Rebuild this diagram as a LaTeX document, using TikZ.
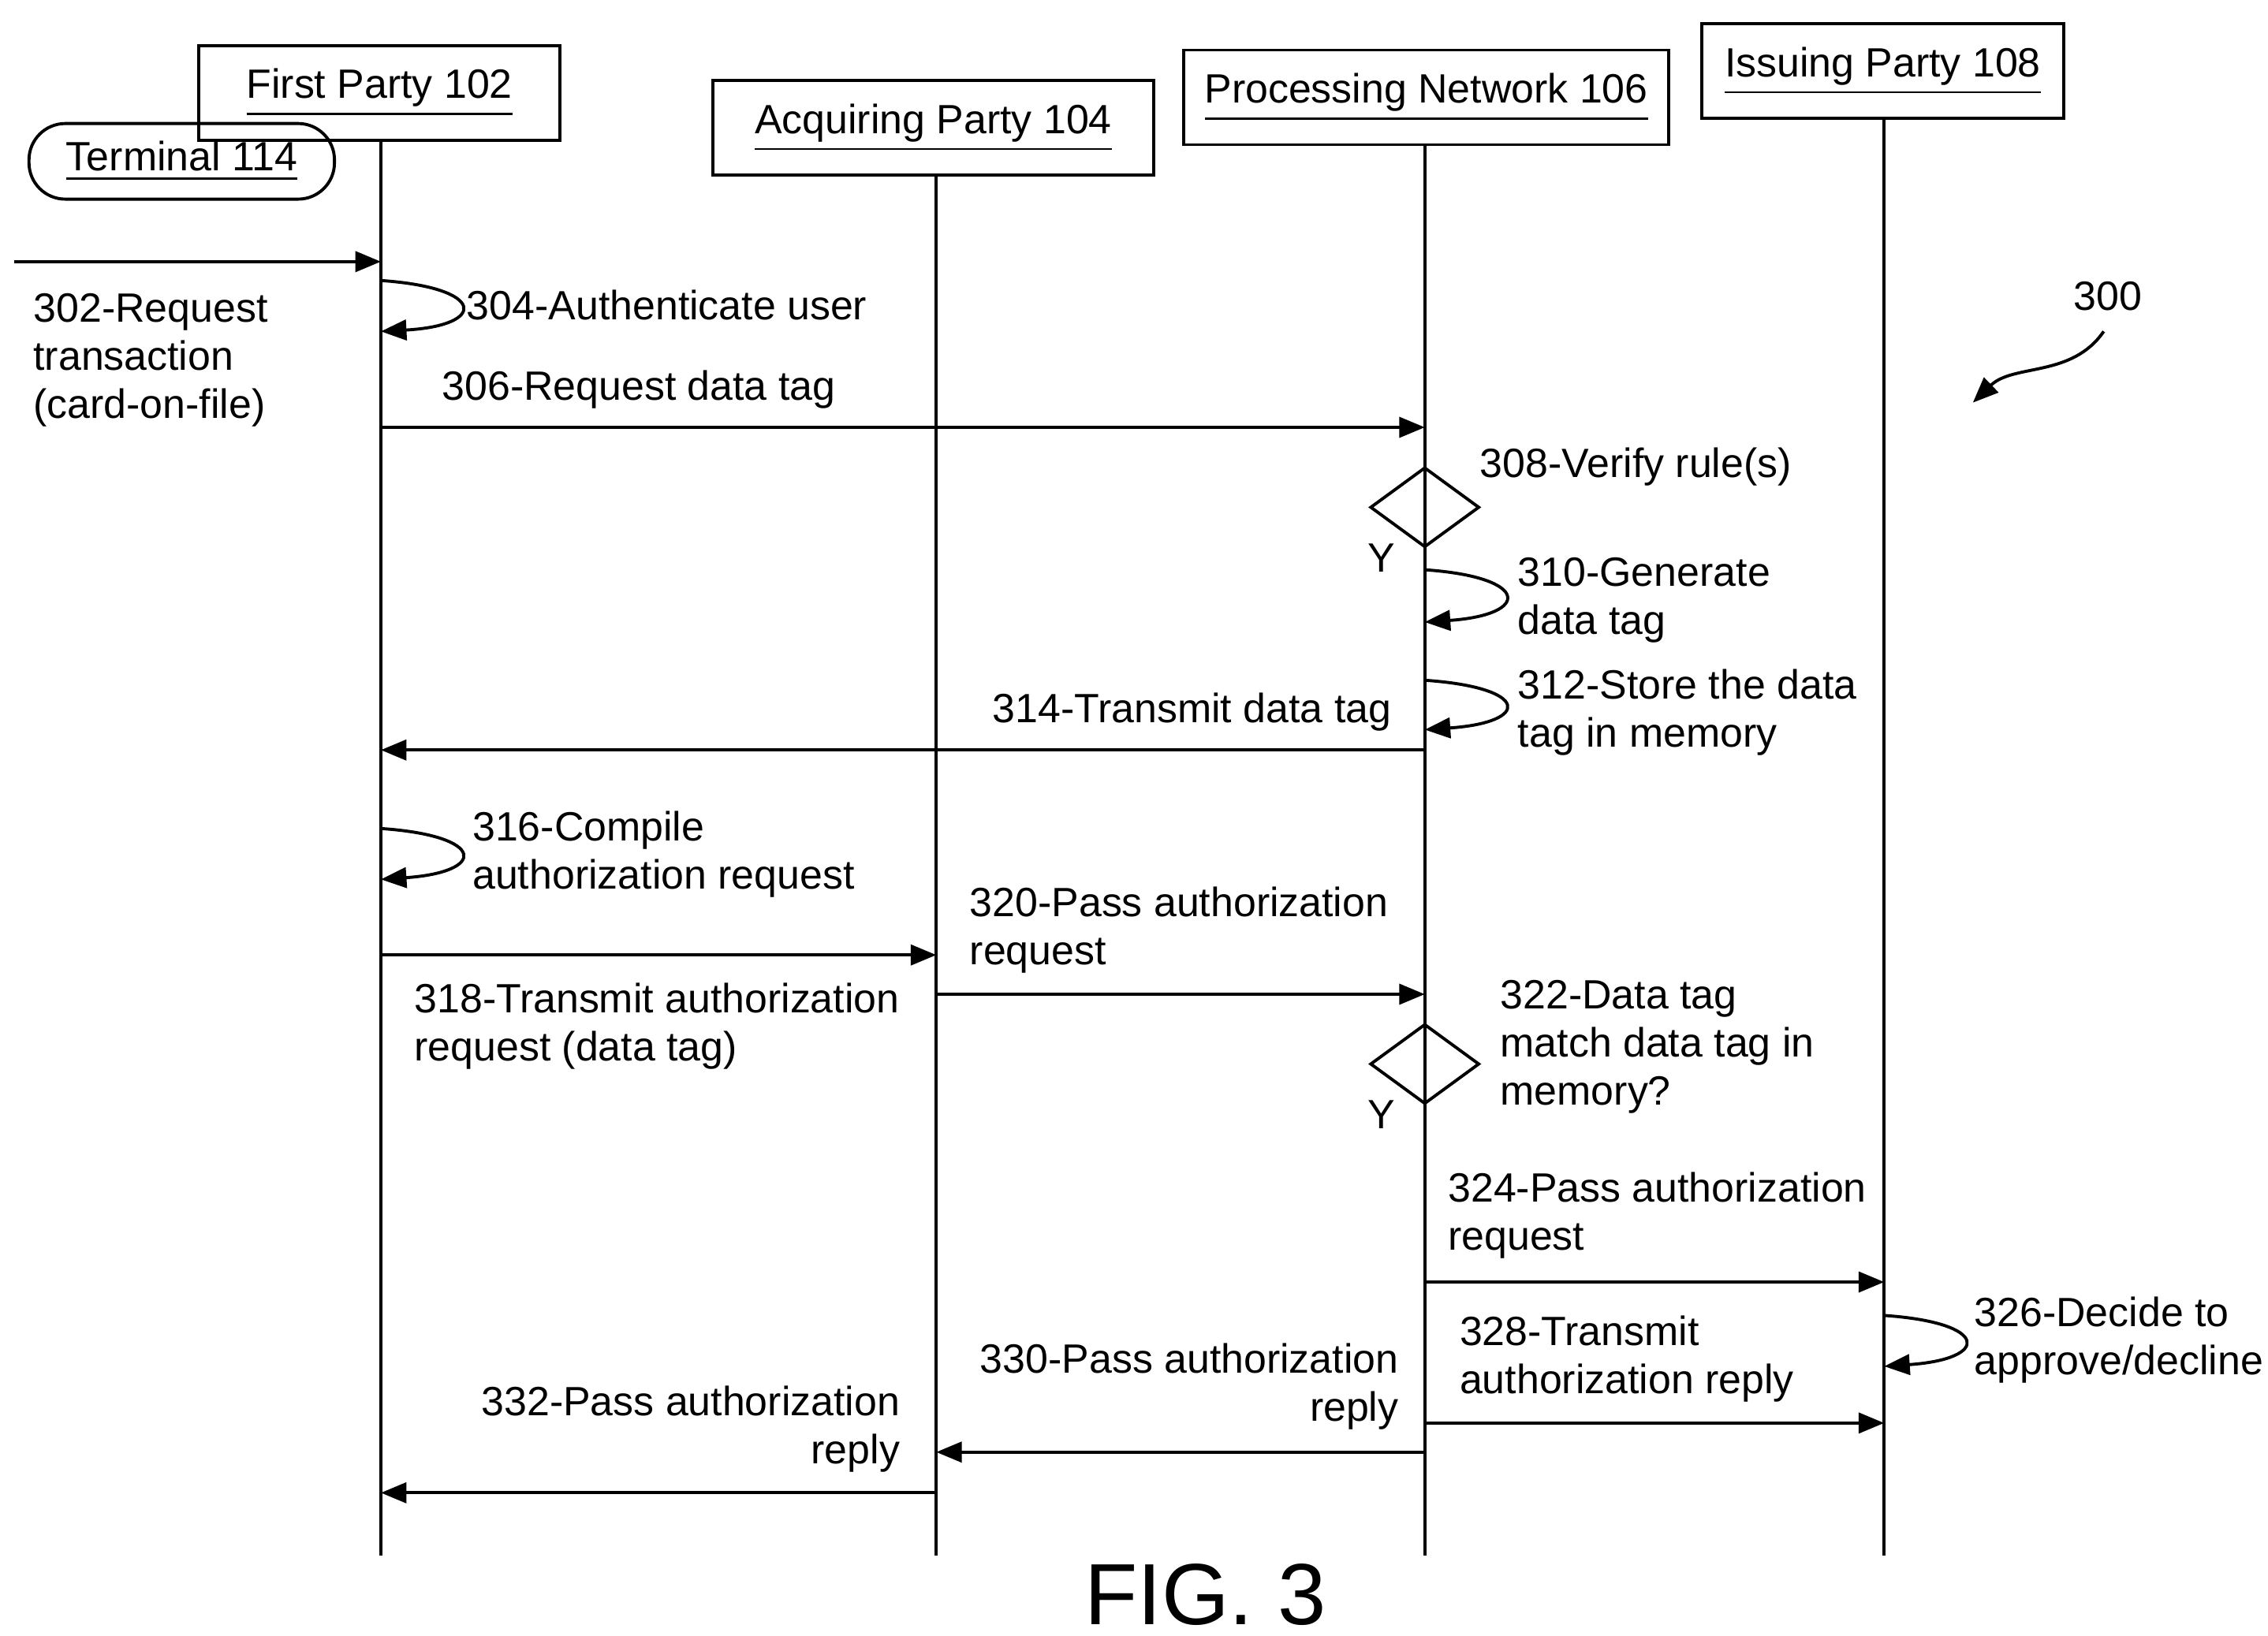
\documentclass[tikz,border=0pt]{standalone}
\usepackage{fontspec}
\setmainfont{Liberation Sans}
\usetikzlibrary{arrows.meta,shapes.geometric}
\begin{document}
\begin{tikzpicture}[x=0.01cm,y=-0.01cm,line width=0.6pt,
  every node/.style={font=\fontsize{8}{9.4}\selectfont},
  party/.style={draw,minimum height=0.65cm,inner sep=2pt},
  msg/.style={-{Triangle[length=5pt,width=4pt]}},
  lbl/.style={align=left,anchor=west,inner sep=0pt},
  rlbl/.style={align=right,anchor=east,inner sep=0pt},
  dec/.style={draw,diamond,minimum width=0.75cm,minimum height=0.55cm,inner sep=0pt}]
\useasboundingbox (0,0) rectangle (1560,1125);

% parties
\node[party,minimum width=2.48cm] (fp) at (261,64) {\underline{First Party 102}};
\node[party,minimum width=3.03cm] (ap) at (642,88) {\underline{Acquiring Party 104}};
\node[party,minimum width=3.33cm] (pn) at (981,67) {\underline{Processing Network 106}};
\node[party,minimum width=2.49cm] (ip) at (1295,49) {\underline{Issuing Party 108}};
\node[draw,rounded corners=0.25cm,minimum width=2.1cm,minimum height=0.52cm] (term) at (125,111) {\underline{Terminal 114}};

% lifelines
\coordinate (fpe) at (262,1070); \coordinate (ape) at (644,1070);
\coordinate (pne) at (980,1070); \coordinate (ipe) at (1296,1070);
\draw (fp.south -| fpe) -- (fpe);
\draw (ap.south -| ape) -- (ape);
\draw (pn.south -| pne) -- (pne);
\draw (ip.south -| ipe) -- (ipe);

% 302
\coordinate (in) at (10,180); \coordinate (fp1) at (262,180);
\draw[msg] (in) -- (fp1);
\node[lbl] (l302) at (22,248) {302-Request\\transaction\\(card-on-file)};

% 304
\coordinate (a304) at (262,193); \coordinate (b304) at (262,228);
\draw[msg] (a304) .. controls (335,198) and (335,224) .. (b304);
\node[lbl] (l304) at (320,210) {304-Authenticate user};

% 306
\coordinate (a306) at (262,294); \coordinate (b306) at (980,294);
\draw[msg] (a306) -- (b306);
\node[lbl] (l306) at (303,268) {306-Request data tag};

% 308
\node[dec] (d308) at (980,349) {};
\node[lbl] (l308) at (1017,321) {308-Verify rule(s)};
\node (y308) at (950,384) {Y};

% 310
\coordinate (a310) at (980,392); \coordinate (b310) at (980,428);
\draw[msg] (a310) .. controls (1053,397) and (1053,423) .. (b310);
\node[lbl] (l310) at (1043,413) {310-Generate\\data tag};

% 312
\coordinate (a312) at (980,468); \coordinate (b312) at (980,502);
\draw[msg] (a312) .. controls (1053,473) and (1053,497) .. (b312);
\node[lbl] (l312) at (1043,490) {312-Store the data\\tag in memory};

% 314
\coordinate (a314) at (980,516); \coordinate (b314) at (262,516);
\draw[msg] (a314) -- (b314);
\node[rlbl] (l314) at (958,490) {314-Transmit data tag};

% 316
\coordinate (a316) at (262,570); \coordinate (b316) at (262,605);
\draw[msg] (a316) .. controls (335,575) and (335,600) .. (b316);
\node[lbl] (l316) at (324,588) {316-Compile\\authorization request};

% 318
\coordinate (a318) at (262,657); \coordinate (b318) at (644,657);
\draw[msg] (a318) -- (b318);
\node[lbl] (l318) at (284,706) {318-Transmit authorization\\request (data tag)};

% 320
\coordinate (a320) at (644,684); \coordinate (b320) at (980,684);
\draw[msg] (a320) -- (b320);
\node[lbl] (l320) at (666,640) {320-Pass authorization\\request};

% 322
\node[dec] (d322) at (980,732) {};
\node[lbl] (l322) at (1031,720) {322-Data tag\\match data tag in\\memory?};
\node (y322) at (950,767) {Y};

% 324
\coordinate (a324) at (980,882); \coordinate (b324) at (1296,882);
\draw[msg] (a324) -- (b324);
\node[lbl] (l324) at (995,836) {324-Pass authorization\\request};

% 326
\coordinate (a326) at (1296,905); \coordinate (b326) at (1296,940);
\draw[msg] (a326) .. controls (1369,910) and (1369,935) .. (b326);
\node[lbl] (l326) at (1357,922) {326-Decide to\\approve/decline};

% 328
\coordinate (a328) at (980,979); \coordinate (b328) at (1296,979);
\draw[msg] (a328) -- (b328);
\node[lbl] (l328) at (1003,935) {328-Transmit\\authorization reply};

% 330
\coordinate (a330) at (980,999); \coordinate (b330) at (644,999);
\draw[msg] (a330) -- (b330);
\node[rlbl] (l330) at (963,954) {330-Pass authorization\\reply};

% 332
\coordinate (a332) at (644,1027); \coordinate (b332) at (262,1027);
\draw[msg] (a332) -- (b332);
\node[rlbl] (l332) at (620,983) {332-Pass authorization\\reply};

% figure number
\node (n300) at (1450,204) {300};
\coordinate (a300) at (1447,228); \coordinate (b300) at (1357,277);
\draw[msg] (a300) .. controls (1425,260) and (1385,250) .. (b300);
\node[font=\fontsize{17}{20}\selectfont] (fig) at (829,1097) {FIG. 3};
\end{tikzpicture}
\end{document}
